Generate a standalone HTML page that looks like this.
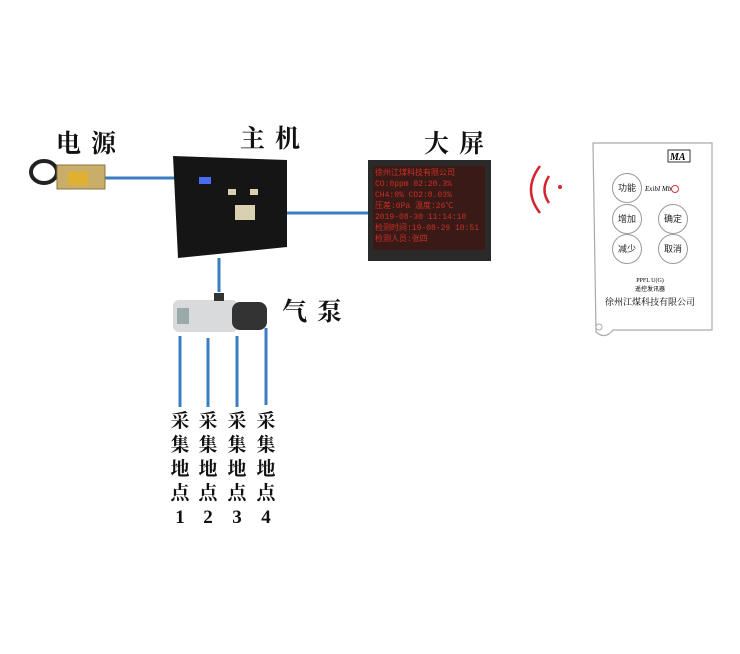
<!DOCTYPE html>
<html><head><meta charset="utf-8"><style>
body{margin:0;background:#fff;}
.c{position:relative;width:740px;height:654px;overflow:hidden;font-family:"Liberation Serif","Noto Serif CJK SC",serif;}
.a{position:absolute;}
.lbl{font-size:25px;letter-spacing:10px;color:#111;line-height:1;font-weight:bold;}
.col{position:absolute;top:410px;width:22px;text-align:center;font-size:19px;line-height:24px;color:#111;font-weight:bold;}
.btn{position:absolute;width:28px;height:28px;border:1px solid #999;border-radius:50%;font:9px "Noto Sans CJK SC",sans-serif;text-align:center;line-height:28px;color:#222;background:#fff;}
</style></head><body><div class="c">
<svg class="a" style="left:0;top:0" width="740" height="654">
<g stroke="#3a7ec2" stroke-width="3">
<line x1="105" y1="178" x2="176" y2="178"/>
<line x1="287" y1="213" x2="368" y2="213"/>
<line x1="219" y1="258" x2="219" y2="292"/>
<line x1="180" y1="336" x2="180" y2="407"/>
<line x1="208" y1="338" x2="208" y2="407"/>
<line x1="237" y1="336" x2="237" y2="407"/>
<line x1="266" y1="328" x2="266" y2="405"/>
</g>
<ellipse cx="44" cy="172" rx="13" ry="11" fill="none" stroke="#222" stroke-width="4"/>
<rect x="57" y="165" width="48" height="24" fill="#c9ae6a" stroke="#8a7440"/>
<rect x="68" y="172" width="20" height="13" fill="#e0b030"/>
<polygon points="173,156 287,160 287,247 178,258" fill="#151515"/>
<rect x="199" y="177" width="12" height="7" fill="#4a6cf0"/>
<rect x="228" y="189" width="8" height="6" fill="#d8d0b0"/>
<rect x="250" y="189" width="8" height="6" fill="#d8d0b0"/>
<rect x="235" y="205" width="20" height="15" fill="#d8d0b0"/>
<rect x="368" y="160" width="123" height="101" fill="#2a2a2a"/>
<rect x="373" y="166" width="112" height="84" fill="#3a1a16"/>
<g fill="#c83028" font-size="8" font-family="Liberation Mono,monospace">
<text x="375" y="175">徐州江煤科技有限公司</text>
<text x="375" y="186">CO:0ppm   02:20.3%</text>
<text x="375" y="197">CH4:0%   CO2:0.03%</text>
<text x="375" y="208">压差:0Pa   温度:26℃</text>
<text x="375" y="219">2019-08-30 11:14:10</text>
<text x="375" y="230">检测时间:19-08-29 10:51</text>
<text x="375" y="241">检测人员:张四</text>
</g>
<rect x="173" y="300" width="65" height="32" rx="6" fill="#d8dadc"/>
<rect x="232" y="302" width="35" height="28" rx="8" fill="#333"/>
<rect x="177" y="308" width="12" height="16" fill="#9aa"/>
<rect x="214" y="293" width="10" height="8" fill="#333"/>
<g fill="none" stroke="#d3262c" stroke-width="2.5">
<path d="M540,166 Q522,190 540,213"/>
<path d="M549,176 Q540,190 549,203"/>
</g>
<circle cx="560" cy="187" r="2" fill="#d3262c"/>
<path d="M593,143 H712 V330 H613 Q605,340 596,332 Z" fill="#fff" stroke="#aaa" stroke-width="1.2"/>
<circle cx="599" cy="327" r="3" fill="none" stroke="#aaa"/>
<rect x="668" y="150" width="22" height="12" fill="#fff" stroke="#333"/>
<text x="670" y="160" font-size="10" font-style="italic" font-weight="bold">MA</text>
<text x="645" y="191" font-size="7" font-style="italic">ExibI Mb</text>
<circle cx="675" cy="189" r="3.5" fill="none" stroke="#d33"/>
<text x="650" y="282" font-size="6" text-anchor="middle">PPFL U(G)</text>
<text x="650" y="291" font-size="6" text-anchor="middle" font-family="Noto Sans CJK SC">遥控发讯器</text>
<text x="650" y="305" font-size="9" text-anchor="middle" font-family="Noto Serif CJK SC">徐州江煤科技有限公司</text>
</svg>
<div class="btn" style="left:612px;top:173px">功能</div>
<div class="btn" style="left:612px;top:204px">增加</div>
<div class="btn" style="left:658px;top:204px">确定</div>
<div class="btn" style="left:612px;top:234px">减少</div>
<div class="btn" style="left:658px;top:234px">取消</div>
<div class="a lbl" style="left:56px;top:132px">电源</div>
<div class="a lbl" style="left:240px;top:127px">主机</div>
<div class="a lbl" style="left:424px;top:132px">大屏</div>
<div class="a lbl" style="left:282px;top:300px">气泵</div>
<div class="col" style="left:169px">采<br>集<br>地<br>点<br>1</div>
<div class="col" style="left:197px">采<br>集<br>地<br>点<br>2</div>
<div class="col" style="left:226px">采<br>集<br>地<br>点<br>3</div>
<div class="col" style="left:255px">采<br>集<br>地<br>点<br>4</div>
</div></body></html>
